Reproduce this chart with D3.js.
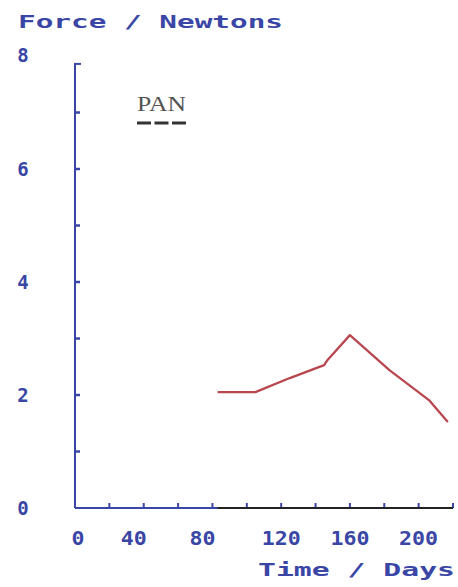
<!DOCTYPE html>
<html><head><meta charset="utf-8">
<script src="https://cdn.jsdelivr.net/npm/d3@7"></script>
<style>
html,body{margin:0;padding:0;background:#fff;}
svg{display:block;}
</style></head>
<body>
<svg id="c" width="458" height="587"></svg>
<script>
// ---- data ----
const days      = [83, 105, 125, 145, 147, 160, 183, 206, 217];
const forceRed  = [2.05, 2.05, 2.3, 2.53, 2.62, 3.06, 2.44, 1.91, 1.52];
const panDays   = [83, 120, 160, 200, 220];
const panForce  = [0, 0, 0, 0, 0];
const xTickVals = [0,20,40,60,80,100,120,140,160,180,200,220];
const xLabelVals = [0, 40, 80, 120, 160, 200];
const xLabels   = ["0","40","80","120","160","200"];
const yTickVals = [0,1,2,3,4,5,6,7,8];
const yLabelVals = [0, 2, 4, 6, 8];
const yLabels   = ["0","2","4","6","8"];
const legendLabel = "PAN";
const yTitle = "Force / Newtons";
const xTitle = "Time / Days";

const blue = "#3a46a6";
const red = "#b9474f";
const svg = d3.select("#c");

const x = d3.scaleLinear().domain([0, 220]).range([75, 453]);
const y = d3.scaleLinear().domain([0, 8]).range([508, 56]);

const plotFont = "'DejaVu Sans Mono', monospace";

// axes lines
svg.append("line").attr("x1", x(0)).attr("x2", x(0)).attr("y1", y(0)).attr("y2", y(7.86))
  .attr("stroke", blue).attr("stroke-width", 2);
svg.append("line").attr("x1", x(0)).attr("x2", x(220)).attr("y1", y(0)).attr("y2", y(0))
  .attr("stroke", blue).attr("stroke-width", 2);

// y ticks (inward, to the right)
svg.selectAll(".yt").data(yTickVals.filter(v => v > 0 && v < 8)).enter().append("line")
  .attr("x1", x(0)).attr("x2", x(0) + 5)
  .attr("y1", d => y(d)).attr("y2", d => y(d))
  .attr("stroke", blue).attr("stroke-width", 2.5);
// top bracket tick
svg.append("line").attr("x1", x(0) - 1).attr("x2", x(0) + 6).attr("y1", y(7.86)).attr("y2", y(7.86))
  .attr("stroke", blue).attr("stroke-width", 2);

// x ticks (inward, up)
svg.selectAll(".xt").data(xTickVals.filter(v => v > 0)).enter().append("line")
  .attr("x1", d => x(d)).attr("x2", d => x(d))
  .attr("y1", y(0)).attr("y2", y(0) - 5)
  .attr("stroke", blue).attr("stroke-width", 2);

// y labels
svg.selectAll(".yl").data(yLabelVals).enter().append("text")
  .attr("x", 23).attr("y", (d, i) => d === 8 ? 62 : y(d) + 7)
  .attr("text-anchor", "middle")
  .attr("font-family", plotFont).attr("font-weight", "bold").attr("font-size", 19)
  .attr("fill", blue)
  .text((d, i) => yLabels[i]);

// x labels
svg.selectAll(".xl").data(xLabelVals).enter().append("text")
  .attr("x", d => x(d) + (d === 0 ? 3 : (d < 100 ? -10 : 0))).attr("y", 545)
  .attr("text-anchor", "middle")
  .attr("font-family", plotFont).attr("font-weight", "bold").attr("font-size", 19)
  .attr("fill", blue)
  .each(function(d, i) {
    const t = d3.select(this).text(xLabels[i]);
    t.attr("textLength", xLabels[i].length * 13).attr("lengthAdjust", "spacingAndGlyphs");
  });

// titles
svg.append("text").attr("x", 18).attr("y", 28)
  .attr("font-family", plotFont).attr("font-weight", "bold").attr("font-size", 18)
  .attr("fill", blue).attr("textLength", 265).attr("lengthAdjust", "spacingAndGlyphs")
  .text(yTitle);
svg.append("text").attr("x", 258).attr("y", 576)
  .attr("font-family", plotFont).attr("font-weight", "bold").attr("font-size", 18)
  .attr("fill", blue).attr("textLength", 197).attr("lengthAdjust", "spacingAndGlyphs")
  .text(xTitle);

// black series along the baseline
const line = d3.line().x(d => x(d[0])).y(d => y(d[1]));
svg.append("path").datum(panDays.map((d, i) => [d, panForce[i]]))
  .attr("d", line).attr("fill", "none").attr("stroke", "#222").attr("stroke-width", 2.2);

// red series
svg.append("path").datum(days.map((d, i) => [d, forceRed[i]]))
  .attr("d", line).attr("fill", "none").attr("stroke", red).attr("stroke-width", 2.3)
  .attr("stroke-linejoin", "round");

// legend
svg.append("text").attr("x", 137).attr("y", 111)
  .attr("font-family", "'Liberation Serif', 'DejaVu Serif', serif").attr("font-size", 22)
  .attr("fill", "#555").attr("textLength", 49).attr("lengthAdjust", "spacingAndGlyphs")
  .text(legendLabel);
svg.append("line").attr("x1", 137).attr("x2", 186).attr("y1", 123).attr("y2", 123)
  .attr("stroke", "#333").attr("stroke-width", 3).attr("stroke-dasharray", "14 3.5");
</script>
</body></html>
